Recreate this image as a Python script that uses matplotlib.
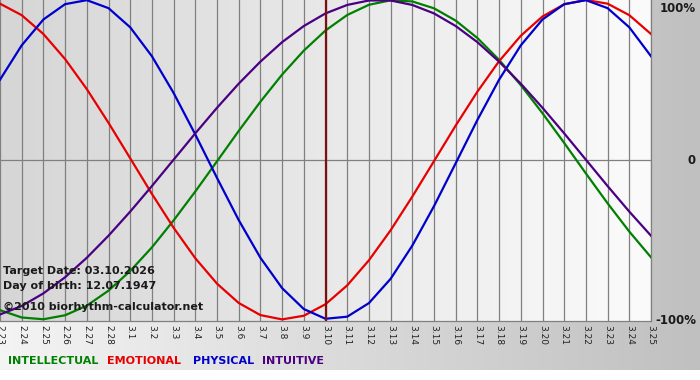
import numpy as np
import matplotlib
matplotlib.use("Agg")
import matplotlib.pyplot as plt
from matplotlib.colors import LinearSegmentedColormap

# ---------------- data ----------------
dates = ["2.23", "2.24", "2.25", "2.26", "2.27", "2.28",
         "3.1", "3.2", "3.3", "3.4", "3.5", "3.6", "3.7", "3.8", "3.9", "3.10",
         "3.11", "3.12", "3.13", "3.14", "3.15", "3.16", "3.17", "3.18", "3.19",
         "3.20", "3.21", "3.22", "3.23", "3.24", "3.25"]

intellectual = [-0.942, -0.988, -0.999, -0.974, -0.914, -0.820, -0.697, -0.549,
                -0.380, -0.199, -0.010, 0.180, 0.363, 0.533, 0.683, 0.809,
                0.906, 0.970, 0.998, 0.991, 0.948, 0.871, 0.762, 0.625,
                0.467, 0.291, 0.105, -0.086, -0.273, -0.450, -0.611]

emotional = [0.977, 0.905, 0.787, 0.630, 0.442, 0.231, 0.009, -0.214,
             -0.426, -0.617, -0.776, -0.897, -0.973, -1.000, -0.977, -0.905,
             -0.787, -0.630, -0.442, -0.231, -0.009, 0.214, 0.426, 0.617,
             0.776, 0.897, 0.973, 1.000, 0.977, 0.905, 0.787]

physical = [0.501, 0.716, 0.878, 0.974, 0.999, 0.949, 0.829, 0.648,
            0.418, 0.158, -0.114, -0.378, -0.614, -0.804, -0.935, -0.996,
            -0.983, -0.898, -0.746, -0.538, -0.291, -0.022, 0.249, 0.501,
            0.716, 0.878, 0.974, 0.999, 0.949, 0.829, 0.648]

intuitive = [-0.969, -0.916, -0.837, -0.736, -0.614, -0.476, -0.325, -0.165,
             0.000, 0.165, 0.325, 0.476, 0.614, 0.736, 0.837, 0.916,
             0.969, 0.997, 0.997, 0.969, 0.916, 0.837, 0.736, 0.614,
             0.476, 0.325, 0.165, 0.000, -0.165, -0.325, -0.476]

target_date = "3.10"
legend_names = ["INTELLECTUAL", "EMOTIONAL", "PHYSICAL", "INTUITIVE"]
right_labels = ["100%", "0", "-100%"]
info_lines = ["Target Date: 03.10.2026", "Day of birth: 12.07.1947",
              "\u00a92010 biorhythm-calculator.net"]

# ---------------- styling ----------------
colors = ["#008000", "#e80000", "#0000cc", "#4b0082"]
series = [intellectual, emotional, physical, intuitive]

W, H = 700, 380
fig = plt.figure(figsize=(W / 100, H / 100), dpi=100)
fig.patch.set_facecolor("white")

# figure background gradient (top 370 px), white strip at the very bottom
bg = fig.add_axes([0, 10 / H, 1, 370 / H], zorder=-5)
bg_cmap = LinearSegmentedColormap.from_list("bg", ["#f4f4f4", "#c0c0c0"])
bg.imshow(np.linspace(0, 1, 256)[None, :], cmap=bg_cmap, aspect="auto",
          extent=[0, 1, 0, 1])
bg.set_axis_off()

ax = fig.add_axes([0, 59 / H, 651 / W, 321 / H])
x = np.arange(len(dates))
ylo, yhi = -1.01, 1.0
plot_cmap = LinearSegmentedColormap.from_list("pl", ["#d6d6d6", "#fbfbfb"])
ax.imshow(np.linspace(0, 1, 256)[None, :], cmap=plot_cmap, aspect="auto",
          extent=[x[0], x[-1], ylo, yhi], zorder=0)

for xi in x:
    ax.axvline(xi, color="#808080", lw=0.9, zorder=1)
ax.axhline(0, color="#808080", lw=0.9, zorder=1)

for vals, c in zip(series, colors):
    ax.plot(x, vals, color=c, lw=1.6, zorder=3, solid_joinstyle="round")

ax.axvline(dates.index(target_date), color="#7a1010", lw=1.6, zorder=5)

ax.set_xlim(x[0], x[-1])
ax.set_ylim(ylo, yhi)
ax.set_xticks(x)
ax.set_xticklabels(dates, rotation=-90, fontsize=6.5, color="#222222")
ax.tick_params(axis="x", length=0, pad=3)
ax.set_yticks([])
for side in ["top", "left"]:
    ax.spines[side].set_visible(False)
for side in ["bottom", "right"]:
    ax.spines[side].set_color("#808080")
    ax.spines[side].set_linewidth(0.9)

# right-hand percentage labels
for lab, ypx in zip(right_labels, [8, 161, 321]):
    fig.text(696 / W, 1 - ypx / H, lab, ha="right", va="center",
             fontsize=8.5, fontweight="bold", color="#1a1a1a")

# info text
for line, ypx in zip(info_lines, [271, 286, 307]):
    fig.text(3 / W, 1 - ypx / H, line, ha="left", va="center",
             fontsize=8, fontweight="bold", color="#1a1a1a")

# legend
for name, c, xpx in zip(legend_names, colors, [8, 107, 193, 262]):
    fig.text(xpx / W, 1 - 361 / H, name, ha="left", va="center",
             fontsize=8, fontweight="bold", color=c)

fig.savefig("out.png", dpi=100)
